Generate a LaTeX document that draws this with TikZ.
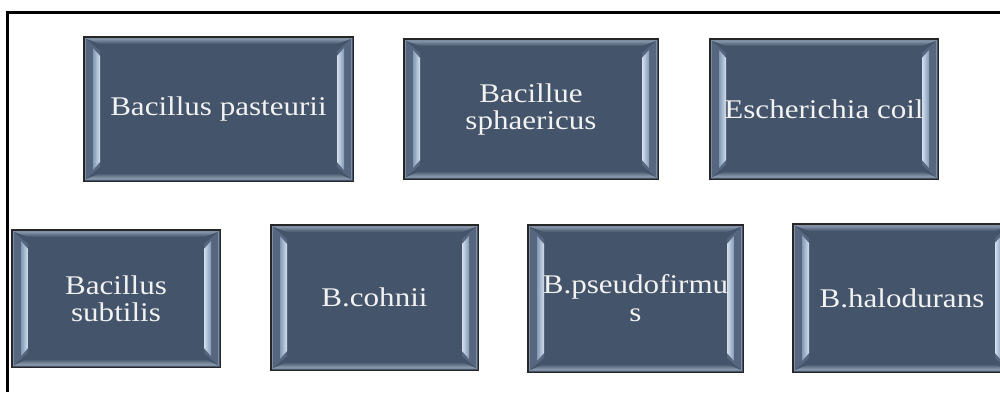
\documentclass[tikz,border=0pt]{standalone}
\usepackage{fontspec}
\newfontfamily\labfont[FakeStretch=1.15]{Liberation Serif}
\usetikzlibrary{calc}
\definecolor{boxmain}{HTML}{44546A}
\definecolor{boxface}{HTML}{56667E}
\definecolor{boxrim}{HTML}{7F8DA2}
\definecolor{bevtop}{HTML}{8A98AD}
\definecolor{bevbot}{HTML}{9AA8BA}
\definecolor{stripa}{HTML}{8399B6}
\definecolor{stripb}{HTML}{D3DFEE}
\definecolor{textw}{HTML}{F2F2F2}
\tikzset{
  boxshape/.style={draw=black!85, line width=0.9pt, fill=boxmain, inner sep=0pt},
  boxtext/.style={text=textw, font=\labfont\fontsize{27}{27}\selectfont, align=center, inner sep=0pt},
  framerule/.style={line width=3pt, black},
}
\newcommand\bevelbox[6]{%
  \pgfmathsetmacro\bw{#4-#2}\pgfmathsetmacro\bh{#5-#3}%
  \pgfmathsetmacro\bx{(#2+#4)/2}\pgfmathsetmacro\by{(#3+#5)/2}%
  \node[boxshape, minimum width=\bw pt, minimum height=\bh pt] (#1) at (\bx,\by) {};
  % bevel faces left / right
  \fill[boxface] (#2+1.5,#3+1.5) -- (#2+16,#3+14) -- (#2+16,#5-14) -- (#2+1.5,#5-1.5) -- cycle;
  \fill[boxface] (#4-1.5,#3+1.5) -- (#4-16,#3+14) -- (#4-16,#5-14) -- (#4-1.5,#5-1.5) -- cycle;
  % top / bottom bevels
  \shade[top color=bevtop, bottom color=boxmain] (#2+1.5,#3+1.5) -- (#4-1.5,#3+1.5) -- (#4-16,#3+7) -- (#2+16,#3+7) -- cycle;
  \shade[top color=boxmain, bottom color=bevbot] (#2+16,#5-8) -- (#4-16,#5-8) -- (#4-1.5,#5-1.5) -- (#2+1.5,#5-1.5) -- cycle;
  % highlight rods
  \shade[left color=stripa, right color=stripb] (#2+9,#3+11) -- (#2+16,#3+19) -- (#2+16,#5-19) -- (#2+9,#5-11) -- cycle;
  \shade[left color=stripb, right color=stripa] (#4-9,#3+11) -- (#4-16,#3+19) -- (#4-16,#5-19) -- (#4-9,#5-11) -- cycle;
  \draw[boxrim, line width=1.2pt] (#2+1.6,#3+1.6) rectangle (#4-1.6,#5-1.6);
  \draw[black!85, line width=0.9pt] (#1.north west) rectangle (#1.south east);
  \node[boxtext] (#1-t) at (#1.center) {#6};
}
\begin{document}
\begin{tikzpicture}[x=1pt, y=-1pt]
  \useasboundingbox (0,0) rectangle (1000,392);
  \begin{scope}
    \clip (0,0) rectangle (1000,392);
    \bevelbox{pasteurii}{84}{37}{353}{181}{Bacillus pasteurii}
    \bevelbox{sphaericus}{404}{39}{658}{179}{Bacillue\\sphaericus}
    \bevelbox{ecoli}{710}{39}{938}{179}{Escherichia coil}
    \bevelbox{subtilis}{12}{230}{220}{367}{Bacillus\\subtilis}
    \bevelbox{cohnii}{271}{225}{478}{370}{B.cohnii}
    \bevelbox{pseudofirmus}{528}{225}{743}{372}{B.pseudofirmu\\[1pt]s}
    \bevelbox{halodurans}{793}{224}{1011}{372}{B.halodurans}
    \coordinate (ftop) at (6,12);
    \coordinate (fright) at (1000,12);
    \coordinate (fbot) at (7.5,392);
    \draw[framerule] (fbot) -- (7.5,12) -- (fright);
  \end{scope}
\end{tikzpicture}
\end{document}
